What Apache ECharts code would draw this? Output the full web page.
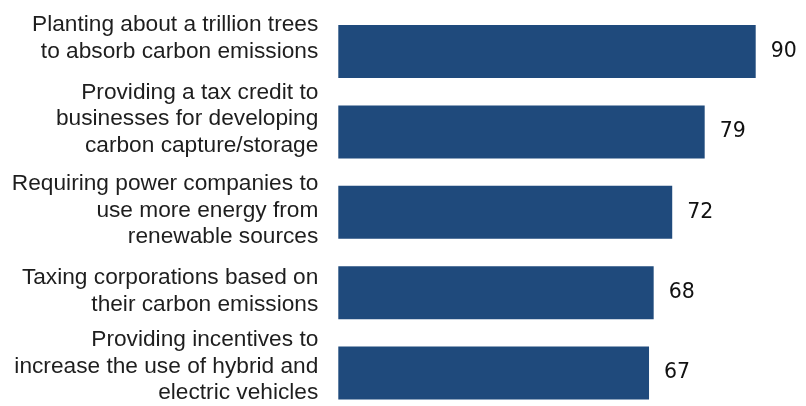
<!DOCTYPE html>
<html>
<head>
<meta charset="utf-8">
<script src="https://cdn.jsdelivr.net/npm/echarts@6/dist/echarts.min.js"></script>
<style>
html,body{margin:0;padding:0;background:#fff;}
#chart{width:806px;height:406px;}
</style>
</head>
<body>
<div id="chart"></div>
<script>
// Data
var categories = [
  "Planting about a trillion trees\nto absorb carbon emissions",
  "Providing a tax credit to\nbusinesses for developing\ncarbon capture/storage",
  "Requiring power companies to\nuse more energy from\nrenewable sources",
  "Taxing corporations based on\ntheir carbon emissions",
  "Providing incentives to\nincrease the use of hybrid and\nelectric vehicles"
];
var values = [90, 79, 72, 68, 67];

// Layout-only: upward nudge (px) of each category label relative to its bar
var labelLift = [13.5, 13, 2, 1.5, 6.5];

var textFont = {
  fontFamily: 'Liberation Sans, Arial, sans-serif',
  fontSize: 22.7,
  lineHeight: 26.5,
  color: '#1e1e1e'
};
var rich = {t: textFont};
labelLift.forEach(function (l, i) {
  rich['g' + i] = {fontSize: 1, height: Math.max(1, l * 2), lineHeight: Math.max(1, l * 2)};
});

var chart = echarts.init(document.getElementById('chart'), null, {renderer: 'canvas'});
var option = {
  animation: false,
  backgroundColor: '#ffffff',
  grid: {left: 338.3, width: 417.4, top: 11.3, height: 402, containLabel: false, outerBoundsMode: 'none'},
  xAxis: {
    type: 'value', min: 0, max: 90,
    show: false
  },
  yAxis: {
    type: 'category',
    inverse: true,
    data: categories,
    axisLine: {show: false},
    axisTick: {show: false},
    splitLine: {show: false},
    axisLabel: {
      interval: 0,
      hideOverlap: false,
      margin: 20,
      align: 'right',
      fontFamily: textFont.fontFamily,
      fontSize: textFont.fontSize,
      lineHeight: textFont.lineHeight,
      color: textFont.color,
      formatter: function (value, index) {
        return value.split('\n').map(function (line) {
          return '{t|' + line + '}';
        }).join('\n') + '\n{g' + index + '| }';
      },
      rich: rich
    }
  },
  series: [{
    type: 'bar',
    data: values,
    barWidth: 53,
    itemStyle: {color: '#1f4a7c'},
    label: {
      show: true,
      position: 'right',
      distance: 15,
      fontFamily: 'DejaVu Sans, sans-serif',
      fontSize: 20.5,
      color: '#111111'
    }
  }]
};
chart.setOption(option);
</script>
</body>
</html>
